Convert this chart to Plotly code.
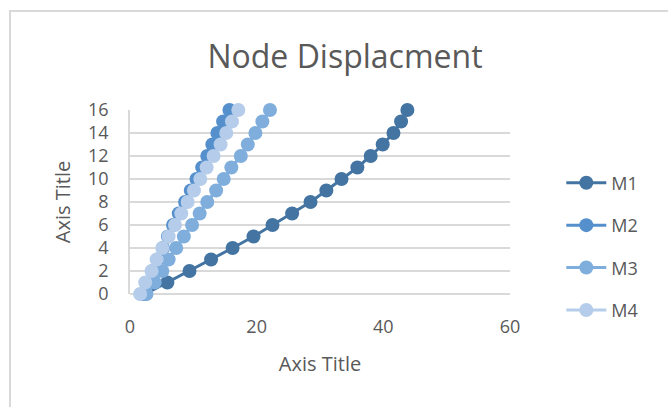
import plotly.graph_objects as go

# Load levels (y) and displacement per model (x)
levels = list(range(17))
m1 = [2.4, 5.9, 9.4, 12.8, 16.2, 19.5, 22.5, 25.6, 28.5, 31.0, 33.4, 35.9, 38.0, 39.9, 41.6, 42.8, 43.8]
m2 = [2.0, 2.8, 3.6, 4.4, 5.2, 6.0, 6.8, 7.7, 8.7, 9.6, 10.5, 11.4, 12.2, 13.0, 13.8, 14.7, 15.7]
m3 = [2.6, 3.9, 5.1, 6.1, 7.3, 8.5, 9.8, 11.0, 12.2, 13.6, 14.8, 16.0, 17.5, 18.6, 19.8, 20.9, 22.1]
m4 = [1.6, 2.4, 3.4, 4.2, 5.1, 6.1, 7.1, 8.1, 9.1, 10.1, 11.1, 12.1, 13.2, 14.3, 15.2, 16.1, 17.1]

series_names = ["M1", "M2", "M3", "M4"]
series_values = [m1, m2, m3, m4]
series_colors = ["#4474A2", "#5590CC", "#7FAEDD", "#B5CDEA"]

x_ticks = [0, 20, 40, 60]
y_ticks = list(range(0, 17, 2))

fig = go.Figure()
for name, vals, col in zip(series_names, series_values, series_colors):
    fig.add_trace(go.Scatter(
        x=vals, y=levels, name=name, mode="lines+markers",
        legendgroup=name, cliponaxis=False,
        line=dict(color=col, width=3),
        marker=dict(color=col, size=14),
    ))

font_family = "Open Sans, Noto Sans, sans-serif"
grey = "#595959"

fig.update_layout(
    width=668, height=407,
    margin=dict(l=130, r=158, t=110, b=113),
    paper_bgcolor="white", plot_bgcolor="white",
    font=dict(family=font_family, color=grey),
    title=dict(text="Node Displacment", x=(345 / 668), xanchor="center",
               y=1 - 57 / 407, yanchor="middle",
               font=dict(size=32, color=grey, family=font_family)),
    showlegend=True,
    legend=dict(x=1.135, xanchor="left", y=0.258, yanchor="middle",
                font=dict(size=18, color=grey), tracegroupgap=16,
                bgcolor="rgba(0,0,0,0)", itemwidth=40),
    xaxis=dict(range=[0, 60], tickvals=x_ticks, showgrid=False,
               zeroline=False, showline=False, ticks="",
               ticklabelstandoff=20,
               tickfont=dict(size=18, color=grey),
               title=dict(text="Axis Title", font=dict(size=20, color=grey), standoff=19)),
    yaxis=dict(range=[0, 16], tickvals=y_ticks, showgrid=True,
               gridcolor="#D9D9D9", gridwidth=1.5,
               zeroline=True, zerolinecolor="#D9D9D9", zerolinewidth=1.5,
               showline=True, linecolor="#D9D9D9", linewidth=1.5, ticks="",
               ticklabelstandoff=16,
               tickfont=dict(size=18, color=grey),
               title=dict(text="Axis Title", font=dict(size=20, color=grey), standoff=12)),
)

# chart frame
fig.add_shape(type="rect", xref="paper", yref="paper",
              x0=(10 - 130) / 380, x1=2.0, y0=-1.0, y1=(294 - 11) / 184,
              line=dict(color="#D9D9D9", width=2), fillcolor="rgba(0,0,0,0)", layer="below")

fig.write_html("out.html")
